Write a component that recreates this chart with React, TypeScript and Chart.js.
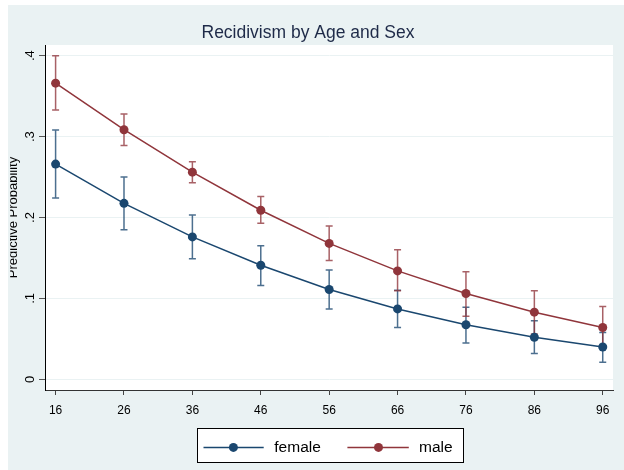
import React, { useEffect, useRef } from "react";
import { Chart, registerables } from "chart.js";

Chart.register(...registerables);

// Ages at which predicted probabilities were computed
const ages = [16, 26, 36, 46, 56, 66, 76, 86, 96];

// Female predicted probabilities with 95% CI bounds
const female = [0.266, 0.2175, 0.176, 0.141, 0.111, 0.087, 0.0675, 0.052, 0.04];
const femaleLo = [0.224, 0.185, 0.149, 0.116, 0.087, 0.064, 0.045, 0.032, 0.021];
const femaleHi = [0.308, 0.25, 0.203, 0.165, 0.135, 0.11, 0.089, 0.0725, 0.058];

// Male predicted probabilities with 95% CI bounds
const male = [0.366, 0.3085, 0.256, 0.209, 0.168, 0.134, 0.106, 0.083, 0.064];
const maleLo = [0.333, 0.289, 0.243, 0.193, 0.147, 0.1095, 0.078, 0.056, 0.039];
const maleHi = [0.4, 0.328, 0.269, 0.226, 0.1895, 0.16, 0.133, 0.1095, 0.09];

const yTicks = [0, 0.1, 0.2, 0.3, 0.4];
const yTickLabels = ["0", ".1", ".2", ".3", ".4"];
const xTicks = [16, 26, 36, 46, 56, 66, 76, 86, 96];

const seriesNames = ["female", "male"];
const seriesColors = ["#1a476f", "#90353b"];
const whiskerColors = ["rgba(26,71,111,0.78)", "rgba(144,53,59,0.78)"];

const FONT = '"Liberation Sans", Arial, Helvetica, sans-serif';
const BG = "#eaf2f3";

const bounds = [
  { lo: femaleLo, hi: femaleHi },
  { lo: maleLo, hi: maleHi },
];

// Background, white plot region, and confidence-interval caps
const decorations = {
  id: "decorations",
  beforeDraw(chart: any) {
    const { ctx, chartArea: a, width, height } = chart;
    ctx.save();
    ctx.fillStyle = BG;
    ctx.fillRect(0, 0, width, height);
    ctx.fillStyle = "#ffffff";
    ctx.fillRect(a.left, a.top, a.right - a.left, a.bottom - a.top);
    ctx.restore();
  },
  beforeDatasetsDraw(chart: any) {
    const { ctx } = chart;
    const xs = chart.scales.x;
    const ys = chart.scales.y;
    bounds.forEach((b, i) => {
      ctx.save();
      ctx.strokeStyle = whiskerColors[i];
      ctx.lineWidth = 1.5;
      ages.forEach((age, j) => {
        const px = xs.getPixelForValue(age);
        const pl = ys.getPixelForValue(b.lo[j]);
        const ph = ys.getPixelForValue(b.hi[j]);
        ctx.beginPath();
        ctx.moveTo(px, pl);
        ctx.lineTo(px, ph);
        ctx.moveTo(px - 3.5, pl);
        ctx.lineTo(px + 3.5, pl);
        ctx.moveTo(px - 3.5, ph);
        ctx.lineTo(px + 3.5, ph);
        ctx.stroke();
      });
      ctx.restore();
    });
  },
  afterDraw(chart: any) {
    const { ctx, chartArea: a } = chart;
    const ys = chart.scales.y;

    // Title
    ctx.save();
    ctx.fillStyle = "#1e2a48";
    ctx.font = `17.5px ${FONT}`;
    ctx.textAlign = "center";
    ctx.textBaseline = "alphabetic";
    ctx.fillText("Recidivism by Age and Sex", 300, 33);
    ctx.restore();

    // Vertical y tick labels
    ctx.save();
    ctx.fillStyle = "#000";
    ctx.font = `13px ${FONT}`;
    ctx.textAlign = "center";
    ctx.textBaseline = "alphabetic";
    yTicks.forEach((v, i) => {
      const py = ys.getPixelForValue(v);
      ctx.save();
      ctx.translate(25.5, py);
      ctx.rotate(-Math.PI / 2);
      ctx.fillText(yTickLabels[i], 0, 0);
      ctx.restore();
    });
    ctx.restore();

    // Y axis title, trimmed at the left edge of the graph region
    ctx.save();
    ctx.beginPath();
    ctx.rect(2.2, 0, chart.width, chart.height);
    ctx.clip();
    ctx.fillStyle = "#000";
    ctx.font = `13px ${FONT}`;
    ctx.textAlign = "center";
    ctx.textBaseline = "alphabetic";
    ctx.translate(8.6, (a.top + a.bottom) / 2);
    ctx.rotate(-Math.PI / 2);
    ctx.fillText("Predictive Probability", 0, 0);
    ctx.restore();

    // Legend
    ctx.save();
    ctx.fillStyle = "#ffffff";
    ctx.fillRect(189, 423, 266, 34);
    ctx.strokeStyle = "#000";
    ctx.lineWidth = 1;
    ctx.strokeRect(189.5, 423.5, 266, 34);
    const ly = 442.4;
    const items = [
      { x0: 195.5, x1: 255.7, mx: 225.4, tx: 266.3 },
      { x0: 339.4, x1: 400.8, mx: 370.5, tx: 411 },
    ];
    items.forEach((it, i) => {
      ctx.strokeStyle = seriesColors[i];
      ctx.lineWidth = 1.5;
      ctx.beginPath();
      ctx.moveTo(it.x0, ly);
      ctx.lineTo(it.x1, ly);
      ctx.stroke();
      ctx.fillStyle = seriesColors[i];
      ctx.beginPath();
      ctx.arc(it.mx, ly, 4.5, 0, Math.PI * 2);
      ctx.fill();
      ctx.fillStyle = "#000";
      ctx.font = `15.5px ${FONT}`;
      ctx.textAlign = "left";
      ctx.textBaseline = "middle";
      ctx.fillText(seriesNames[i], it.tx, ly + 0.5);
    });
    ctx.restore();
  },
};

export default function App() {
  const ref = useRef<HTMLCanvasElement | null>(null);

  useEffect(() => {
    if (!ref.current) return;
    const series = [female, male];
    const chart = new Chart(ref.current, {
      type: "line",
      data: {
        datasets: series.map((vals, i) => ({
          label: seriesNames[i],
          data: ages.map((a, j) => ({ x: a, y: vals[j] })),
          borderColor: seriesColors[i],
          backgroundColor: seriesColors[i],
          borderWidth: 1.5,
          pointRadius: 4.5,
          pointBorderWidth: 0,
          pointBackgroundColor: seriesColors[i],
          tension: 0,
          fill: false,
        })),
      },
      options: {
        animation: false,
        responsive: false,
        devicePixelRatio: 1,
        layout: { padding: { left: 0, top: 40, right: 11, bottom: 50 } },
        plugins: {
          legend: { display: false },
          title: { display: false },
          tooltip: { enabled: false },
        },
        scales: {
          x: {
            type: "linear",
            min: 14.45,
            max: 97.5,
            afterBuildTicks: (s: any) => {
              s.ticks = xTicks.map((v) => ({ value: v }));
            },
            afterFit: (s: any) => {
              s.height = 30;
            },
            ticks: {
              font: { family: FONT, size: 12 },
              color: "#000",
              padding: 8,
              maxRotation: 0,
              minRotation: 0,
              callback: (v: any) => String(v),
            },
            grid: {
              drawOnChartArea: false,
              drawTicks: true,
              tickLength: 5,
              tickColor: "#444",
              tickWidth: 1,
            },
            border: { display: true, color: "#333", width: 1 },
          },
          y: {
            type: "linear",
            min: -0.0132,
            max: 0.4132,
            afterBuildTicks: (s: any) => {
              s.ticks = yTicks.map((v) => ({ value: v }));
            },
            afterFit: (s: any) => {
              s.width = 37;
            },
            ticks: { display: false },
            grid: {
              color: BG,
              lineWidth: 1,
              drawTicks: true,
              tickLength: 6,
              tickColor: "#555",
              tickWidth: 1,
            },
            border: { display: true, color: "#000", width: 1 },
          },
        },
      },
      plugins: [decorations],
    });
    return () => chart.destroy();
  }, []);

  return (
    <div
      style={{
        position: "absolute",
        left: 8,
        top: 5,
        width: 616,
        height: 465,
        overflow: "hidden",
      }}
    >
      <canvas ref={ref} width={616} height={465} style={{ display: "block" }} />
    </div>
  );
}
